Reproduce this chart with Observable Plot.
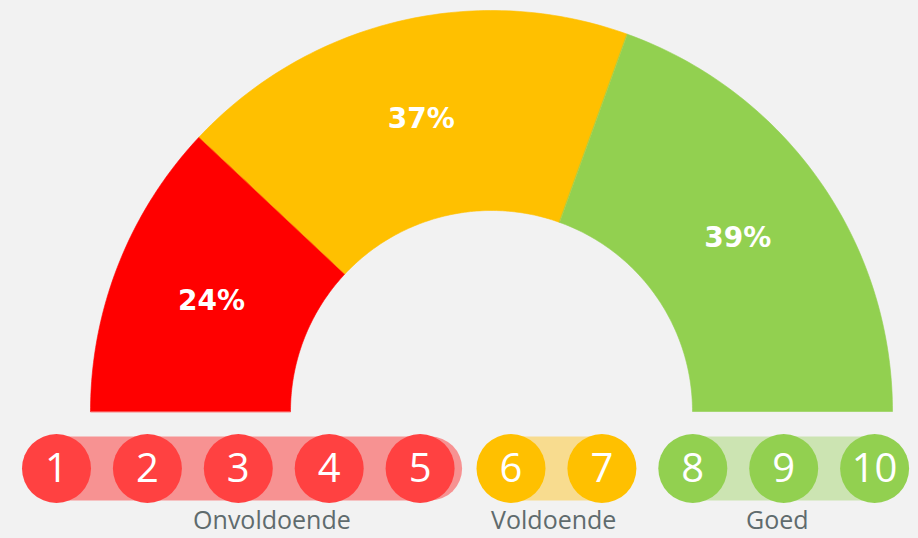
<!DOCTYPE html>
<html><head><meta charset="utf-8">
<script src="https://cdn.jsdelivr.net/npm/d3@7"></script>
<script src="https://cdn.jsdelivr.net/npm/@observablehq/plot@0.6"></script>
<style>html,body{margin:0;padding:0;background:#f2f2f2;overflow:hidden;}</style>
</head><body><div id="chart"></div>
<script>
// ---- data ----
const categories = ["Onvoldoende", "Voldoende", "Goed"];
const shares = [24, 37, 39];
const gaugeColors = ["#ff0000", "#ffc000", "#92d050"];
const dotColors = ["#ff4141", "#ffc000", "#92d050"];
const bandColors = ["#f79292", "#f8dc8f", "#cce4b2"];
const scores = [1, 2, 3, 4, 5, 6, 7, 8, 9, 10];
const scoreGroup = [0, 0, 0, 0, 0, 1, 1, 2, 2, 2];

// ---- layout ----
const W = 918, H = 538;
const cx = 491, cy = 411, Rin = 201, Rout = 401;
const rowY = 468, x0 = 56, step = 90.9;
const px = s => x0 + (s - 1) * step;
const labelShift = [0.37, -0.03, -0.07];

const total = d3.sum(shares);
let acc = 0;
const segs = shares.map((v, i) => {
  const a0 = acc / total * Math.PI; acc += v;
  const a1 = acc / total * Math.PI;
  return {i, v, a0, a1, mid: (a0 + a1) / 2};
});
const arcPts = [];
const N = 80;
for (const s of segs) {
  for (let k = 0; k <= N; k++) {
    const t = s.a0 + (s.a1 - s.a0) * k / N;
    arcPts.push({seg: s.i, x: cx - Rout * Math.cos(t), y: cy - Rout * Math.sin(t)});
  }
  for (let k = N; k >= 0; k--) {
    const t = s.a0 + (s.a1 - s.a0) * k / N;
    arcPts.push({seg: s.i, x: cx - Rin * Math.cos(t), y: cy - Rin * Math.sin(t)});
  }
}
const Rmid = (Rin + Rout) / 2;

const groups = categories.map((c, g) => {
  const members = scores.filter((s, j) => scoreGroup[j] === g);
  return {g, c, first: d3.min(members), last: d3.max(members)};
});

const chart = Plot.plot({
  width: W, height: H, margin: 0,
  x: {domain: [0, W], range: [0, W], axis: null},
  y: {domain: [0, H], range: [0, H], axis: null},
  color: {type: "identity"},
  style: {background: "#f2f2f2", overflow: "visible"},
  marks: [
    Plot.line(arcPts, {x: "x", y: "y", z: "seg", fill: d => gaugeColors[d.seg], stroke: d => gaugeColors[d.seg], strokeWidth: 0.6, curve: "linear-closed"}),
    Plot.text(segs, {x: d => cx - Rmid * Math.cos(d.mid), y: d => cy - Rmid * Math.sin(d.mid), text: d => d.v + "%", fill: "white", fontSize: 28, fontWeight: "bold", fontFamily: "DejaVu Sans"}),
    Plot.link(groups, {x1: d => px(d.first), x2: d => px(d.last) + (d.g === 0 ? 10 : 0), y1: () => rowY, y2: () => rowY, stroke: d => bandColors[d.g], strokeWidth: 64, strokeLinecap: "round"}),
    Plot.dot(scores, {x: s => px(s), y: () => rowY, r: 34.5, fill: (s, j) => dotColors[scoreGroup[j]], stroke: null}),
    Plot.text(scores, {x: s => px(s), y: () => rowY + 1, text: s => String(s), fill: "white", fontSize: 40, fontFamily: "Open Sans"}),
    Plot.text(groups, {x: d => px((d.first + d.last) / 2 + labelShift[d.g]), y: () => 520, text: "c", fill: "#5f6b6d", fontSize: 25, fontFamily: "Open Sans"})
  ]
});
document.getElementById("chart").append(chart);
</script>
</body></html>
